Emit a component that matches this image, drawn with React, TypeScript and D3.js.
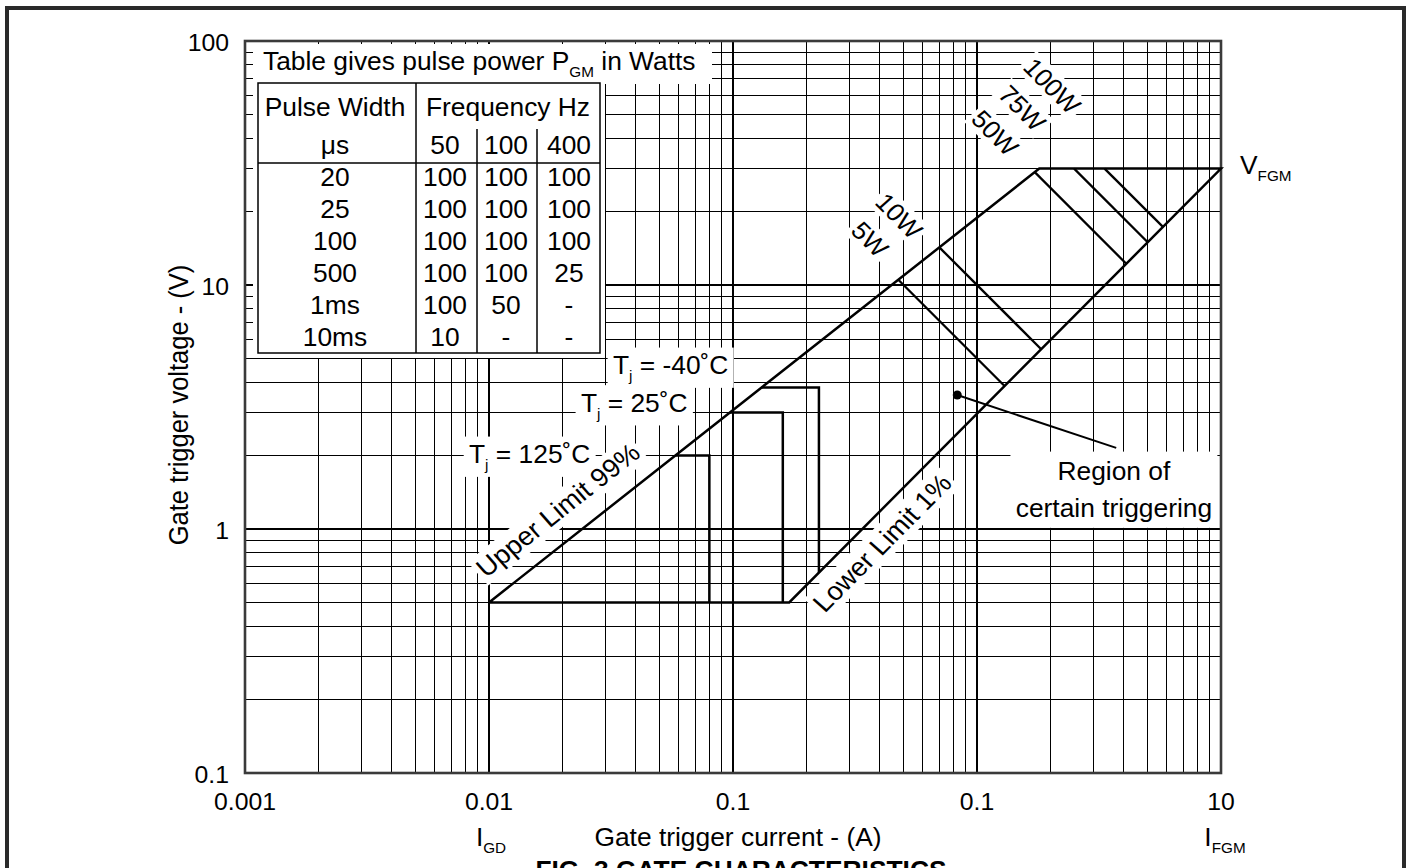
import React, { useLayoutEffect, useRef, useState } from "react";
import * as d3 from "d3";

const W = 1411;
const H = 868;
const SX = 1.055; // the scanned sheet is a little wider than it is tall
const FONT = "'Liberation Sans', Arial, Helvetica, sans-serif";

// axes
const xDomain = [0.001, 10];
const yDomain = [0.1, 100];
const xTicks = [0.001, 0.01, 0.1, 1, 10];
const xTickLabels = ["0.001", "0.01", "0.1", "0.1", "10"];
const yTicks = [0.1, 1, 10, 100];
const yTickLabels = ["0.1", "1", "10", "100"];

// boundary of the gate characteristic, (A, V)
const upperLimit: [number, number][] = [[0.01, 0.5], [1.8, 30]];
const lowerLimit: [number, number][] = [[0.17, 0.5], [10, 30]];
const vFgm = 30;
const vBase = 0.5;

// constant pulse power lines (W)
const powers = [5, 10, 50, 75, 100];
const powerNames = ["5W", "10W", "50W", "75W", "100W"];
const powerLabelAt: [number, number][] = [[0.364, 15.4], [0.479, 19.2], [1.185, 42], [1.53, 53.1], [2.03, 65.4]];

// minimum trigger point per junction temperature
const tjNames = ["125˚C", "25˚C", "-40˚C"];
const tjVgt = [2, 3, 3.8];
const tjIgt = [0.08, 0.16, 0.225];
const tjLabelAt: [number, number][] = [[0.00828, 1.865], [0.0238, 3.03], [0.0322, 4.32]];

// pulse power table
const tableFreqs = ["50", "100", "400"];
const tableWidths = ["20", "25", "100", "500", "1ms", "10ms"];
const tableP50 = ["100", "100", "100", "100", "100", "10"];
const tableP100 = ["100", "100", "100", "100", "50", "-"];
const tableP400 = ["100", "100", "100", "25", "-", "-"];

const regionDot: [number, number] = [0.83, 3.54];
const regionLead: [number, number] = [3.72, 2.15];
const regionLabelAt: [number, number] = [3.64, 1.588];
const upperLabelAt: [number, number] = [0.0203, 1.12];
const lowerLabelAt: [number, number] = [0.436, 0.828];

const x = d3.scaleLog().domain(xDomain).range([245, 1221]);
const y = d3.scaleLog().domain(yDomain).range([773, 41]);

function decades(lo: number, hi: number) {
  const out: { v: number; major: boolean }[] = [];
  for (let e = lo; e < hi; e++) for (let k = 1; k < 10; k++) out.push({ v: k * Math.pow(10, e), major: k === 1 });
  out.push({ v: Math.pow(10, hi), major: true });
  return out;
}

// straight line in log-log space: log V = a + b log I
function logLine(p: [number, number][]) {
  const [[i0, v0], [i1, v1]] = p.map(([i, v]) => [Math.log10(i), Math.log10(v)]);
  const b = (v1 - v0) / (i1 - i0);
  return { a: v0 - b * i0, b };
}
const up = logLine(upperLimit);
const lo = logLine(lowerLimit);
const meet = (l: { a: number; b: number }, P: number): [number, number] => {
  const li = (Math.log10(P) - l.a) / (1 + l.b);
  return [Math.pow(10, li), P / Math.pow(10, li)];
};
const upperAtV = (v: number) => Math.pow(10, (Math.log10(v) - up.a) / up.b);
const lowerAtI = (i: number) => Math.pow(10, lo.a + lo.b * Math.log10(i));

const path = d3
  .line<[number, number]>()
  .x((d) => x(d[0]))
  .y((d) => y(d[1]));

// on-screen angle of the segment b -> c
const deg = (b: [number, number], c: [number, number]) => (Math.atan2(y(c[1]) - y(b[1]), x(c[0]) - x(b[0])) * 180) / Math.PI;

function frame(px: number, py: number, angle: number) {
  const a = (angle * Math.PI) / 180;
  const inner = (Math.atan2(SX * Math.sin(a), Math.cos(a)) * 180) / Math.PI;
  return `translate(${px},${py}) scale(${SX},1)` + (angle ? ` rotate(${inner})` : "");
}

function Txt({ x: px, y: py, angle = 0, anchor = "start", size = 25, weight = "normal", dy, children }: any) {
  return (
    <text transform={frame(px, py, angle)} textAnchor={anchor} fontSize={size} fontWeight={weight} dy={dy} fill="#000">
      {children}
    </text>
  );
}

// white knock-out box sized from the text it sits under
function Knock({ x: px, y: py, angle = 0, anchor = "start", size = 25, dy, pad = [4, 4], children }: any) {
  const ref = useRef<SVGTextElement>(null);
  const [bb, setBb] = useState<{ x: number; y: number; width: number; height: number } | null>(null);
  useLayoutEffect(() => {
    if (ref.current) {
      const b = ref.current.getBBox();
      setBb({ x: b.x, y: b.y, width: b.width, height: b.height });
    }
  }, []);
  return (
    <g transform={frame(px, py, angle)}>
      <text ref={ref} textAnchor={anchor} fontSize={size} dy={dy} visibility="hidden">
        {children}
      </text>
      {bb && (
        <rect x={bb.x - pad[0]} y={bb.y - pad[1]} width={bb.width + 2 * pad[0]} height={bb.height + 2 * pad[1]} fill="#fff" />
      )}
    </g>
  );
}

const sub = (s: string, rest: string) => (
  <>
    <tspan fontSize={14.5} dy={7}>
      {s}
    </tspan>
    <tspan dy={-7}>{rest}</tspan>
  </>
);

export default function App() {
  const vGrid = decades(-3, 1);
  const hGrid = decades(-1, 2);

  const outline: [number, number][] = [upperLimit[0], upperLimit[1], lowerLimit[1], lowerLimit[0], upperLimit[0]];

  const powerLines = powers.map((P) => {
    let s = meet(up, P);
    if (s[1] > vFgm) s = [P / vFgm, vFgm];
    return [s, meet(lo, P)] as [number, number][];
  });
  const powerAngle = deg(powerLines[0][0], powerLines[0][1]);

  const tjPaths = tjVgt.map((v, k) => {
    const i = tjIgt[k];
    return [[upperAtV(v), v], [i, v], [i, i < lowerLimit[0][0] ? vBase : lowerAtI(i)]] as [number, number][];
  });

  const labels: any[] = [
    ...powerNames.map((n, k) => ({
      key: n,
      x: x(powerLabelAt[k][0]),
      y: y(powerLabelAt[k][1]),
      angle: powerAngle,
      anchor: "middle",
      dy: "0.35em",
      pad: [3, 0],
      content: n,
    })),
    ...tjNames.map((n, k) => ({
      key: n,
      x: x(tjLabelAt[k][0]),
      y: y(tjLabelAt[k][1]),
      angle: 0,
      anchor: "start",
      pad: [5, 4],
      content: <>T{sub("j", " = " + n)}</>,
    })),
    { key: "upper", x: x(upperLabelAt[0]), y: y(upperLabelAt[1]), angle: deg(upperLimit[0], upperLimit[1]), anchor: "middle", size: 26, pad: [3, 1], content: "Upper Limit 99%" },
    { key: "lower", x: x(lowerLabelAt[0]), y: y(lowerLabelAt[1]), angle: deg(lowerLimit[0], lowerLimit[1]), anchor: "middle", size: 26, pad: [3, 1], content: "Lower Limit 1%" },
    {
      key: "region",
      x: x(regionLabelAt[0]),
      y: y(regionLabelAt[1]),
      angle: 0,
      anchor: "middle",
      pad: [5, 6],
      content: (
        <>
          <tspan x={0}>Region of</tspan>
          <tspan x={0} dy={37}>
            certain triggering
          </tspan>
        </>
      ),
    },
  ];

  // table layout
  const colX = [258, 416, 477, 537, 600];
  const colMid = [335, 445, 506, 569];
  const rowBase = tableWidths.map((_, r) => 186 + 32 * r);
  const cols = [tableWidths, tableP50, tableP100, tableP400];

  return (
    <>
      <style>{`body{margin:0;background:#fff}`}</style>
      <svg width={W} height={H} style={{ display: "block" }} fontFamily={FONT}>
        <rect width={W} height={H} fill="#fff" />

        {/* grid */}
        <g shapeRendering="crispEdges">
          {vGrid.map((g) => (
            <line key={"v" + g.v} x1={x(g.v)} x2={x(g.v)} y1={y(100)} y2={y(0.1)} stroke="#000" strokeWidth={g.major ? 2 : 1} />
          ))}
          {hGrid.map((g) => (
            <line key={"h" + g.v} x1={x(0.001)} x2={x(10)} y1={y(g.v)} y2={y(g.v)} stroke="#000" strokeWidth={g.major ? 2 : 1} />
          ))}
        </g>

        {/* knock-outs */}
        <rect x={253} y={44} width={459} height={40} fill="#fff" />
        <rect x={253} y={83} width={352} height={275} fill="#fff" />
        {labels.map((l) => (
          <Knock key={"k" + l.key} x={l.x} y={l.y} angle={l.angle} anchor={l.anchor} size={l.size} dy={l.dy} pad={l.pad}>
            {l.content}
          </Knock>
        ))}

        {/* plot frame */}
        <rect x={x(0.001)} y={y(100)} width={x(10) - x(0.001)} height={y(0.1) - y(100)} fill="none" stroke="#3a3a3a" strokeWidth={2.6} />

        {/* characteristic */}
        <g fill="none" stroke="#000" strokeWidth={2.5} strokeLinejoin="miter">
          <path d={path(outline) || ""} />
          {powerLines.map((p, k) => (
            <path key={"p" + k} d={path(p) || ""} strokeWidth={2.3} />
          ))}
          {tjPaths.map((p, k) => (
            <path key={"t" + k} d={path(p) || ""} />
          ))}
          <path d={path([regionDot, regionLead]) || ""} strokeWidth={2} />
        </g>
        <circle cx={x(regionDot[0])} cy={y(regionDot[1])} r={4.5} fill="#000" />

        {/* table */}
        <g fill="none" stroke="#000" strokeWidth={1.5}>
          <rect x={colX[0]} y={83} width={colX[4] - colX[0]} height={270} />
          <line x1={colX[1]} x2={colX[1]} y1={83} y2={353} />
          <line x1={colX[2]} x2={colX[2]} y1={129} y2={353} />
          <line x1={colX[3]} x2={colX[3]} y1={129} y2={353} />
          <line x1={colX[0]} x2={colX[4]} y1={163} y2={163} />
        </g>
        <Txt x={263} y={70}>
          Table gives pulse power P{sub("GM", " in Watts")}
        </Txt>
        <Txt x={colMid[0]} y={116} anchor="middle">
          Pulse Width
        </Txt>
        <Txt x={(colX[1] + colX[4]) / 2} y={116} anchor="middle">
          Frequency Hz
        </Txt>
        <Txt x={colMid[0]} y={154} anchor="middle">
          μs
        </Txt>
        {tableFreqs.map((f, c) => (
          <Txt key={"f" + f} x={colMid[c + 1]} y={154} anchor="middle">
            {f}
          </Txt>
        ))}
        {cols.map((col, c) =>
          col.map((v, r) => (
            <Txt key={"c" + c + r} x={colMid[c]} y={rowBase[r]} anchor="middle">
              {v}
            </Txt>
          ))
        )}

        {/* annotations */}
        {labels.map((l) => (
          <Txt key={"l" + l.key} x={l.x} y={l.y} angle={l.angle} anchor={l.anchor} size={l.size} dy={l.dy}>
            {l.content}
          </Txt>
        ))}
        <Txt x={x(10) + 19} y={y(vFgm) + 5}>
          V{sub("FGM", "")}
        </Txt>

        {/* axes text */}
        {yTicks.map((t, k) => (
          <Txt key={"yt" + t} x={229} y={y(t) + 9.5} anchor="end" size={23.5}>
            {yTickLabels[k]}
          </Txt>
        ))}
        {xTicks.map((t, k) => (
          <Txt key={"xt" + k} x={x(t)} y={810} anchor="middle" size={23.5}>
            {xTickLabels[k]}
          </Txt>
        ))}
        <Txt x={188} y={405} angle={-90} anchor="middle" size={25.5}>
          Gate trigger voltage - (V)
        </Txt>
        <Txt x={738} y={846} anchor="middle">
          Gate trigger current - (A)
        </Txt>
        <Txt x={x(0.01) + 2} y={846} anchor="middle">
          I{sub("GD", "")}
        </Txt>
        <Txt x={x(10) + 4} y={846} anchor="middle">
          I{sub("FGM", "")}
        </Txt>
        <Txt x={741} y={879} anchor="middle" weight="bold">
          FIG. 3 GATE CHARACTERISTICS
        </Txt>

        {/* sheet border */}
        <rect x={7} y={8} width={1397} height={920} fill="none" stroke="#2a2a2a" strokeWidth={4} />
      </svg>
    </>
  );
}
